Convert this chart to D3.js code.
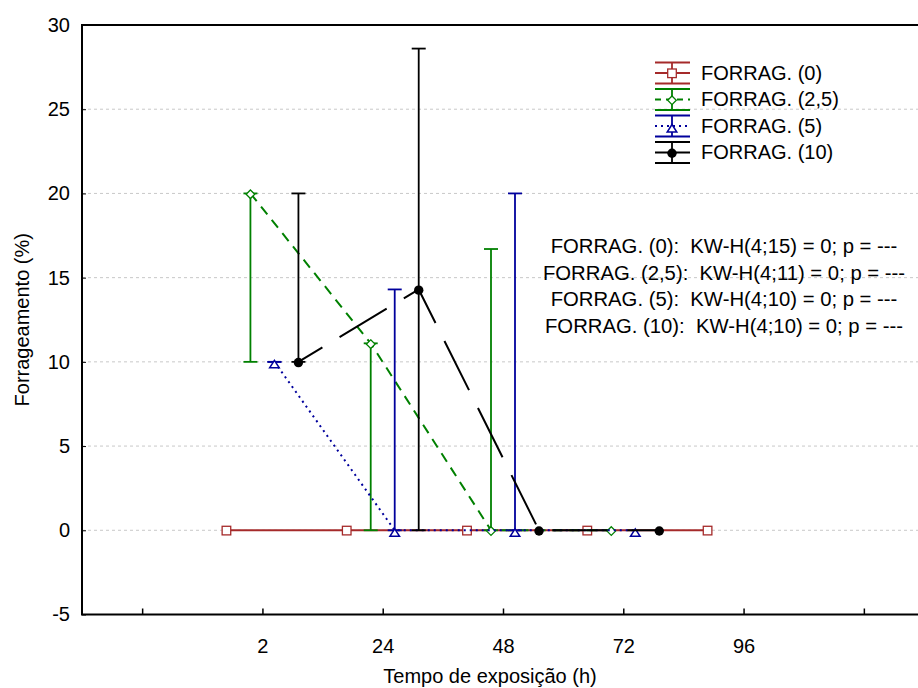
<!DOCTYPE html>
<html lang="pt">
<head>
  <meta charset="utf-8" />
  <title>Forrageamento</title>
  <script src="https://d3js.org/d3.v7.min.js"></script>
  <style>
    body { margin: 0; background: #fff; }
    svg { display: block; font-family: Arial, "Liberation Sans", sans-serif; }
    .grid line { stroke: #c8c8c8; stroke-dasharray: 3,3; }
    .note { white-space: pre; }
  </style>
</head>
<body>
<div id="chart"></div>
<script>
// tick labels on the category axis (first and last ticks are blank)
var xTickLabels = ["", "2", "24", "48", "72", "96", ""];
var categories = ["2", "24", "48", "72", "96"];
var yTicks = [-5, 0, 5, 10, 15, 20, 25, 30];

var seriesNames = ["FORRAG. (0)", "FORRAG. (2,5)", "FORRAG. (5)", "FORRAG. (10)"];

// medians, minimum and maximum per category
var med0 = [0, 0, 0, 0, 0], min0 = [0, 0, 0, 0, 0], max0 = [0, 0, 0, 0, 0];
var med25 = [20, 11.1, 0, 0], min25 = [10, 0, 0, 0], max25 = [20, 11.1, 16.7, 0];
var med5 = [10, 0, 0, 0], min5 = [10, 0, 0, 0], max5 = [10, 14.3, 20, 0];
var med10 = [10, 14.3, 0, 0], min10 = [10, 0, 0, 0], max10 = [20, 28.6, 0, 0];

var statLines = [
  "FORRAG. (0):  KW-H(4;15) = 0; p = ---",
  "FORRAG. (2,5):  KW-H(4;11) = 0; p = ---",
  "FORRAG. (5):  KW-H(4;10) = 0; p = ---",
  "FORRAG. (10):  KW-H(4;10) = 0; p = ---"
];

var W = 918, H = 688;
var pLeft = 82, pTop = 25, pBottom = 614.5, pRight = 924;

var svg = d3.select("#chart").append("svg")
  .attr("width", W)
  .attr("height", H);

var x = d3.scaleLinear().domain([0.5, 7.5]).range([pLeft, pRight]);
var y = d3.scaleLinear().domain([-5, 30]).range([pBottom, pTop]);

// category k (0-based) sits on tick k+2
function catPos(i) { return i + 2; }

var styles = [
  {color: "#a52a2a", dash: null, marker: "square", offset: -36},
  {color: "#008000", dash: "10,7", marker: "diamond", offset: -12},
  {color: "#00009c", dash: "2,4", marker: "triangle", offset: 12},
  {color: "#000000", dash: "55,20", dashOffset: 27, marker: "circle", offset: 36}
];

var series = [
  {med: med0, min: min0, max: max0},
  {med: med25, min: min25, max: max25},
  {med: med5, min: min5, max: max5},
  {med: med10, min: min10, max: max10}
];

// grid
svg.append("g").attr("class", "grid")
  .selectAll("line")
  .data(yTicks.filter(function(d) { return d > -5 && d < 30; }))
  .enter().append("line")
  .attr("x1", pLeft).attr("x2", pRight)
  .attr("y1", function(d) { return y(d); })
  .attr("y2", function(d) { return y(d); });

// axes
var yAxis = d3.axisLeft(y).tickValues(yTicks)
  .tickFormat(function(d) { return String(d); })
  .tickSize(-4).tickPadding(12);
var gy = svg.append("g").attr("transform", "translate(" + pLeft + ",0)").call(yAxis);
gy.select(".domain").remove();
gy.selectAll(".tick line").attr("stroke", "#000");
gy.selectAll("text").style("font-size", "20px").attr("fill", "#000");

var xAxis = d3.axisBottom(x).tickValues(d3.range(1, 8))
  .tickFormat(function(d) { return xTickLabels[d - 1]; })
  .tickSize(-6).tickPadding(24);
var gx = svg.append("g").attr("transform", "translate(0," + pBottom + ")").call(xAxis);
gx.select(".domain").remove();
gx.selectAll(".tick line").attr("stroke", "#000").attr("stroke-width", 1.5);
gx.selectAll("text").style("font-size", "20px").attr("fill", "#000");

// frame
svg.append("rect")
  .attr("x", pLeft).attr("y", pTop)
  .attr("width", pRight - pLeft).attr("height", pBottom - pTop)
  .attr("fill", "none").attr("stroke", "#000").attr("stroke-width", 2);

function drawMarker(g, type, color, cx, cy) {
  if (type === "square") {
    g.append("rect").attr("x", cx - 4.3).attr("y", cy - 4).attr("width", 8.6).attr("height", 8.6)
      .attr("fill", "#fff").attr("stroke", color).attr("stroke-width", 1.3);
  } else if (type === "diamond") {
    g.append("path").attr("d", "M" + cx + "," + (cy - 3.5) + "l4.3,4.3l-4.3,4.3l-4.3,-4.3z")
      .attr("fill", "#fff").attr("stroke", color).attr("stroke-width", 1.3);
  } else if (type === "triangle") {
    g.append("path").attr("d", "M" + cx + "," + (cy - 1.5) + "L" + (cx + 4.8) + "," + (cy + 6) + "L" + (cx - 4.8) + "," + (cy + 6) + "z")
      .attr("fill", "#fff").attr("stroke", color).attr("stroke-width", 1.5);
  } else {
    g.append("circle").attr("cx", cx).attr("cy", cy + 0.7).attr("r", 4.7).attr("fill", color);
  }
}

var line = d3.line()
  .x(function(d) { return d[0]; })
  .y(function(d) { return d[1]; });

series.forEach(function(s, k) {
  var st = styles[k];
  var g = svg.append("g");
  var pts = s.med.map(function(v, i) { return [x(catPos(i)) + st.offset, y(v)]; });

  // error bars (min - max)
  s.med.forEach(function(v, i) {
    var cx = x(catPos(i)) + st.offset;
    if (s.max[i] !== s.min[i]) {
      g.append("line").attr("x1", cx).attr("x2", cx)
        .attr("y1", y(s.min[i])).attr("y2", y(s.max[i]))
        .attr("stroke", st.color).attr("stroke-width", 1.8);
    }
    if (s.max[i] !== 0 || s.min[i] !== 0) {
      [s.min[i], s.max[i]].forEach(function(b) {
        g.append("line").attr("x1", cx - 7).attr("x2", cx + 7)
          .attr("y1", y(b)).attr("y2", y(b))
          .attr("stroke", st.color).attr("stroke-width", 1.8);
      });
    }
  });

  g.append("path").attr("d", line(pts))
    .attr("fill", "none").attr("stroke", st.color).attr("stroke-width", 2)
    .attr("stroke-dasharray", st.dash)
    .attr("stroke-dashoffset", st.dashOffset || 0);

  pts.forEach(function(p) { drawMarker(g, st.marker, st.color, p[0], p[1]); });
});

// legend
var legend = svg.append("g");
seriesNames.forEach(function(name, k) {
  var st = styles[k];
  var cy = 73 + k * 26.5, cx = 672;
  var g = legend.append("g");
  [cy - 10.5, cy + 10.5].forEach(function(b) {
    g.append("line").attr("x1", 655).attr("x2", 690).attr("y1", b).attr("y2", b)
      .attr("stroke", st.color).attr("stroke-width", 2);
  });
  g.append("line").attr("x1", cx).attr("x2", cx).attr("y1", cy - 10.5).attr("y2", cy + 10.5)
    .attr("stroke", st.color).attr("stroke-width", 1.8);
  g.append("line").attr("x1", 655).attr("x2", 690).attr("y1", cy).attr("y2", cy)
    .attr("stroke", st.color).attr("stroke-width", 2)
    .attr("stroke-dasharray", k === 1 ? "6,5" : (k === 2 ? "2,4" : null));
  drawMarker(g, st.marker, st.color, cx, cy);
  g.append("text").attr("x", 701).attr("y", cy + 6.8)
    .style("font-size", "20px").text(name);
});

// Kruskal-Wallis notes
svg.append("g").selectAll("text")
  .data(statLines)
  .enter().append("text")
  .attr("class", "note")
  .attr("x", 724)
  .attr("y", function(d, i) { return 253 + i * 26.7; })
  .attr("text-anchor", "middle")
  .style("font-size", "20.3px")
  .text(function(d) { return d; });

// axis titles
svg.append("text")
  .attr("x", 490).attr("y", 683)
  .attr("text-anchor", "middle")
  .style("font-size", "20px")
  .text("Tempo de exposição (h)");

svg.append("text")
  .attr("transform", "translate(29," + ((pTop + pBottom) / 2) + ") rotate(-90)")
  .attr("text-anchor", "middle")
  .style("font-size", "20px")
  .text("Forrageamento (%)");
</script>
</body>
</html>
